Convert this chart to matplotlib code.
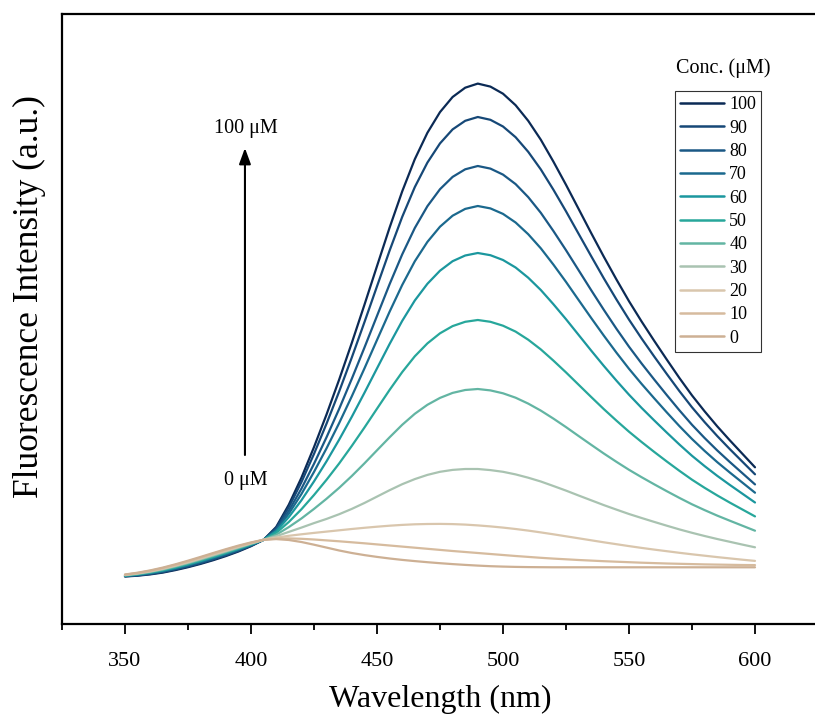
import matplotlib
matplotlib.use("Agg")
import matplotlib.pyplot as plt
from matplotlib.ticker import MultipleLocator

plt.rcParams['font.family'] = ['Liberation Serif', 'DejaVu Serif']

# ---------------- data ----------------
wavelength = list(range(350, 601, 5))

concentrations = [100, 90, 80, 70, 60, 50, 40, 30, 20, 10, 0]

i_100 = [47.5, 48.3, 49.6, 51.4, 53.9, 56.8, 60.1, 63.8, 67.9, 72.5, 77.8, 84.2,
         97.0, 119.3, 146.2, 176.9, 209.7, 244.5, 281.1, 319.1, 357.9, 396.4, 432.6,
         464.8, 491.2, 511.9, 527.0, 536.3, 540.4, 537.4, 530.3, 518.8, 503.2, 484.3,
         462.4, 439.2, 415.1, 390.9, 367.3, 344.6, 322.8, 302.5, 283.2, 264.4, 246.0,
         228.6, 212.7, 197.7, 183.7, 170.2, 156.7]
i_90 = [47.7, 48.6, 50.0, 51.9, 54.5, 57.4, 60.8, 64.5, 68.6, 73.1, 78.2, 84.2,
        96.1, 116.8, 141.8, 170.1, 200.5, 232.6, 266.5, 301.7, 337.7, 373.4, 407.1,
        436.9, 461.4, 480.6, 494.6, 503.2, 507.0, 504.2, 497.5, 486.8, 472.2, 454.6,
        434.3, 412.7, 390.2, 367.8, 345.7, 324.6, 304.4, 285.5, 267.5, 250.0, 232.9,
        216.7, 201.9, 188.0, 174.9, 162.3, 149.7]
i_80 = [47.9, 48.9, 50.4, 52.4, 55.1, 58.1, 61.5, 65.2, 69.3, 73.7, 78.6, 84.2,
        94.9, 113.2, 135.3, 160.2, 186.9, 215.2, 245.2, 276.3, 308.1, 339.8, 369.6,
        396.0, 417.8, 434.8, 447.1, 454.7, 458.0, 455.4, 449.4, 439.9, 426.9, 411.2,
        393.0, 373.8, 353.8, 333.8, 314.2, 295.3, 277.3, 260.5, 244.5, 228.9, 213.7,
        199.2, 186.0, 173.6, 162.0, 150.8, 139.6]
i_70 = [48.1, 49.2, 50.8, 52.9, 55.6, 58.7, 62.2, 66.0, 70.0, 74.3, 78.9, 84.2,
        93.9, 110.3, 129.9, 152.1, 175.8, 201.0, 227.7, 255.5, 284.0, 312.3, 339.0,
        362.7, 382.1, 397.3, 408.3, 415.1, 418.0, 415.6, 410.1, 401.5, 389.8, 375.7,
        359.4, 342.1, 324.0, 306.0, 288.4, 271.4, 255.2, 240.1, 225.7, 211.6, 197.9,
        185.0, 173.1, 161.9, 151.5, 141.4, 131.3]
i_60 = [48.3, 49.5, 51.2, 53.4, 56.2, 59.4, 62.9, 66.7, 70.7, 74.9, 79.3, 84.2,
        92.7, 106.9, 123.7, 142.6, 162.8, 184.4, 207.2, 231.1, 255.6, 280.0, 303.1,
        323.5, 340.2, 353.3, 362.8, 368.5, 371.0, 368.8, 364.0, 356.5, 346.3, 334.0,
        319.8, 304.8, 289.1, 273.4, 258.1, 243.4, 229.3, 216.1, 203.6, 191.4, 179.5,
        168.2, 157.9, 148.2, 139.1, 130.3, 121.5]
i_50 = [48.5, 49.8, 51.6, 53.9, 56.8, 60.0, 63.6, 67.4, 71.3, 75.4, 79.7, 84.2,
        91.1, 102.0, 114.7, 129.0, 144.3, 160.6, 178.1, 196.4, 215.3, 234.1, 251.9,
        267.7, 280.6, 290.7, 297.9, 302.2, 304.0, 302.2, 298.3, 292.4, 284.3, 274.6,
        263.4, 251.6, 239.3, 227.0, 214.9, 203.4, 192.3, 182.0, 172.1, 162.5, 153.2,
        144.3, 136.2, 128.6, 121.4, 114.5, 107.6]
i_40 = [48.7, 50.1, 52.0, 54.4, 57.4, 60.7, 64.3, 68.1, 72.0, 76.0, 80.1, 84.2,
        89.3, 96.9, 105.5, 115.1, 125.3, 136.2, 148.0, 160.6, 173.7, 186.7, 199.2,
        210.2, 219.2, 226.1, 231.1, 234.0, 235.0, 233.6, 230.7, 226.3, 220.4, 213.4,
        205.4, 196.9, 188.0, 179.2, 170.5, 162.2, 154.2, 146.8, 139.7, 132.8, 126.1,
        119.7, 113.9, 108.4, 103.3, 98.3, 93.3]
i_30 = [48.9, 50.4, 52.4, 54.9, 58.0, 61.3, 65.0, 68.8, 72.7, 76.6, 80.5, 84.2,
        87.8, 92.1, 96.4, 100.9, 105.1, 109.8, 115.1, 121.0, 127.4, 133.8, 139.8,
        144.9, 149.1, 152.2, 154.1, 155.0, 155.0, 153.9, 152.2, 149.6, 146.3, 142.5,
        138.0, 133.4, 128.5, 123.7, 118.9, 114.4, 110.0, 106.0, 102.1, 98.3, 94.6,
        91.2, 88.0, 85.0, 82.2, 79.4, 76.7]
i_20 = [49.1, 50.7, 52.8, 55.4, 58.5, 62.0, 65.7, 69.6, 73.4, 77.2, 80.8, 84.2,
        86.4, 88.2, 89.7, 91.1, 92.4, 93.7, 95.0, 96.2, 97.3, 98.3, 99.1,
        99.7, 100.0, 100.1, 99.9, 99.4, 98.6, 97.6, 96.4, 95.0, 93.4, 91.6,
        89.7, 87.7, 85.7, 83.7, 81.7, 79.8, 77.9, 76.1, 74.4, 72.8, 71.2,
        69.7, 68.3, 66.9, 65.6, 64.3, 63.1]
i_10 = [49.3, 51.0, 53.2, 55.9, 59.1, 62.6, 66.4, 70.3, 74.1, 77.8, 81.2, 84.2,
        85.4, 85.6, 85.2, 84.5, 83.6, 82.7, 81.7, 80.7, 79.6, 78.5, 77.4,
        76.3, 75.2, 74.1, 73.0, 72.0, 71.0, 70.0, 69.0, 68.0, 67.1, 66.2,
        65.4, 64.7, 64.0, 63.4, 62.8, 62.3, 61.8, 61.3, 60.9, 60.5, 60.2,
        59.9, 59.6, 59.4, 59.2, 59.0, 58.9]
i_0 = [49.5, 51.3, 53.6, 56.4, 59.7, 63.3, 67.1, 71.0, 74.8, 78.4, 81.6, 84.2,
       84.9, 84.0, 82.0, 79.3, 76.4, 73.5, 71.0, 68.9, 67.1, 65.5, 64.1,
       62.9, 61.8, 60.8, 59.9, 59.1, 58.4, 57.8, 57.4, 57.1, 56.9, 56.8,
       56.7, 56.7, 56.7, 56.7, 56.7, 56.7, 56.7, 56.7, 56.7, 56.7, 56.7,
       56.7, 56.7, 56.7, 56.7, 56.7, 56.7]

spectra = [i_100, i_90, i_80, i_70, i_60, i_50, i_40, i_30, i_20, i_10, i_0]

colors = ['#0b2a55', '#164877', '#1a5885', '#1b698e', '#1b979e', '#27a79b',
          '#63b5a3', '#a9c3b1', '#d9c6ad', '#d6bb9e', '#cdb094']

x_ticks = [350, 400, 450, 500, 550, 600]

# ---------------- figure ----------------
fig = plt.figure(figsize=(8.15, 7.22), dpi=100)
ax = fig.add_axes([62 / 815, 98 / 722, 756 / 815, 610 / 722])

for conc, vals, col in zip(concentrations, spectra, colors):
    ax.plot(wavelength, vals, color=col, lw=1.6, label=str(conc),
            solid_capstyle='round', solid_joinstyle='round')

ax.set_xlim(325, 625)
ax.set_ylim(0, 610)

ax.set_xticks(x_ticks)
ax.xaxis.set_minor_locator(MultipleLocator(25))
ax.tick_params(axis='x', which='major', direction='out', length=7, width=1.3,
               labelsize=16, pad=13)
ax.tick_params(axis='x', which='minor', direction='out', length=4, width=1.3)
ax.tick_params(axis='y', which='both', left=False, labelleft=False)
ax.tick_params(top=False, right=False)

for s in ax.spines.values():
    s.set_linewidth(1.6)
    s.set_color('black')

ax.set_xlabel('Wavelength (nm)', fontsize=23, labelpad=10)
ax.set_ylabel('Fluorescence Intensity (a.u.)', fontsize=25.5)
ax.yaxis.set_label_coords(-0.021, 0.536)

# arrow and annotations
ax.annotate('', xy=(397.6, 476), xytext=(397.6, 169),
            arrowprops=dict(arrowstyle='-|>,head_length=0.6,head_width=0.22',
                            lw=1.5, color='black',
                            mutation_scale=16, shrinkA=0, shrinkB=0))
ax.text(398, 496, '100 μM', ha='center', va='center', fontsize=14.5)
ax.text(398, 144, '0 μM', ha='center', va='center', fontsize=14.5)

# legend
leg = ax.legend(loc='upper left', bbox_to_anchor=((675 - 62) / 756, (624 - 91) / 610),
                borderaxespad=0, frameon=True, fancybox=False, fontsize=13,
                handlelength=2.4, handletextpad=0.3, labelspacing=0.35,
                borderpad=0.3)
leg.get_frame().set_edgecolor('black')
leg.get_frame().set_linewidth(0.8)
for line in leg.get_lines():
    line.set_linewidth(1.8)

ax.text((723 - 62) / 756, (624 - 68) / 610, 'Conc. (μM)', transform=ax.transAxes,
        ha='center', va='center', fontsize=14.5)

fig.savefig('out.png', dpi=100)
